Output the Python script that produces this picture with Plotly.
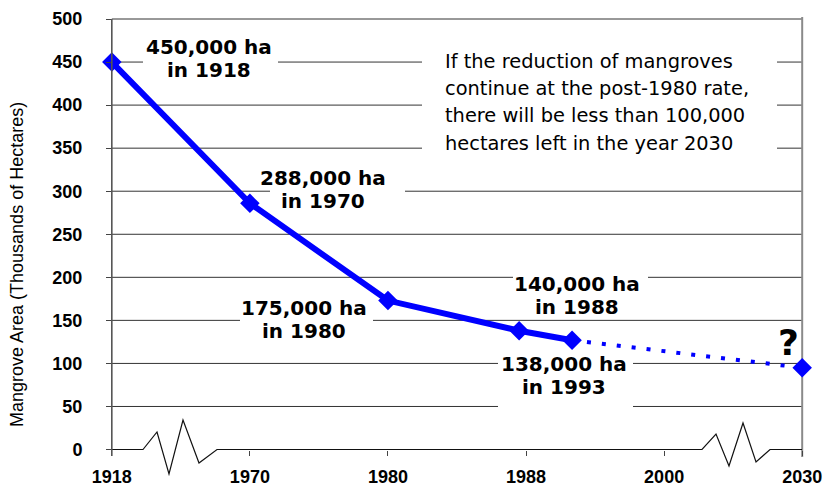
import numpy as np
import plotly.graph_objects as go

# ---------------- data ----------------
years = [1918, 1970, 1980, 1987.6, 1992, 2030]          # observation / projection years
area = [450, 286, 173, 138, 127, 95]                      # thousands of hectares
tick_years = [1918, 1970, 1980, 1988, 2000, 2030]         # broken axis tick years
tick_labels = ["1918", "1970", "1980", "1988", "2000", "2030"]
y_ticks = [0, 50, 100, 150, 200, 250, 300, 350, 400, 450, 500]
y_title = "Mangrove Area (Thousands of Hectares)"
label_lines = [
    ["450,000 ha", "in 1918"],
    ["288,000 ha", "in 1970"],
    ["175,000 ha", "in 1980"],
    ["140,000 ha", "in 1988"],
    ["138,000 ha", "in 1993"],
]
note_lines = [
    "If the reduction of mangroves",
    "continue at the post-1980 rate,",
    "there will be less than 100,000",
    "hectares left in the year 2030",
]
question = "?"

# ---------------- layout geometry ----------------
W, H = 828, 489
L, R, T, B = 98, 12, 10, 12
PW, PH = W - L - R, H - T - B
XR = [-0.1, 5.1]
YR = [-31.9, 510.45]
tick_pos = list(range(len(tick_years)))
xpos = np.interp(years, tick_years, tick_pos)


def xd(px):
    return XR[0] + (px - L) / PW * (XR[1] - XR[0])


def yd(py):
    return YR[1] - (py - T) / PH * (YR[1] - YR[0])


def xp(px):
    return (px - L) / PW


def yp(py):
    return (H - B - py) / PH


BLUE = "#0000FF"
GRID = "#333333"
fig = go.Figure()

# dotted projection
fig.add_trace(go.Scatter(
    x=xpos[4:], y=area[4:], mode="lines",
    line=dict(color=BLUE, width=4, dash="4px,11px"),
    hoverinfo="skip", showlegend=False, cliponaxis=False))
# observed series
fig.add_trace(go.Scatter(
    x=xpos[:5], y=area[:5], mode="lines+markers",
    line=dict(color=BLUE, width=6),
    marker=dict(symbol="diamond", size=15, color=BLUE),
    showlegend=False, cliponaxis=False))
# projected point
fig.add_trace(go.Scatter(
    x=xpos[5:], y=area[5:], mode="markers",
    marker=dict(symbol="diamond", size=15, color=BLUE),
    showlegend=False, cliponaxis=False))

shapes = []
# gridlines
for v in y_ticks[1:]:
    shapes.append(dict(type="line", xref="x", yref="y", x0=0, x1=5, y0=v, y1=v,
                       line=dict(color=GRID, width=1), layer="below"))
# white boxes behind labels (px rectangles)
boxes = [(143, 278, 33, 86), (422, 777, 42, 158), (270, 405, 166, 213),
         (240, 373, 296, 342), (513, 648, 270, 315), (498, 633, 354, 412)]
for x0, x1, y0, y1 in boxes:
    shapes.append(dict(type="rect", xref="x", yref="y", x0=xd(x0), x1=xd(x1),
                       y0=yd(y1), y1=yd(y0), fillcolor="white",
                       line=dict(width=0), layer="below"))
# broken baseline with zigzags
zz_px = [(112, 449.5), (143, 449.5), (157, 432), (169, 474), (183, 420), (199, 463),
         (217, 449.5), (702, 449.5), (716, 434), (729, 466), (743, 423), (756, 462),
         (770, 449.5), (802, 449.5)]
path = "M " + " L ".join(f"{xd(a):.4f},{yd(b):.3f}" for a, b in zz_px)
shapes.append(dict(type="path", xref="x", yref="y", path=path,
                   line=dict(color="#111111", width=1.2), layer="above"))
# left axis line and right border line
shapes.append(dict(type="line", xref="x", yref="y", x0=0, x1=0, y0=500, y1=yd(456),
                   line=dict(color="#555555", width=1.6), layer="above"))
shapes.append(dict(type="line", xref="x", yref="y", x0=5, x1=5, y0=yd(17), y1=yd(457),
                   line=dict(color="#8a8a8a", width=2), layer="below"))

annotations = []
BOLD = dict(family="DejaVu Sans", size=20, color="black", weight="bold")
label_px = [  # (center x, line1 y, line2 y)
    (209, 47, 70), (323, 177.5, 200.5), (304, 307.5, 330.5),
    (577, 284, 307), (564, 364, 387)]
for lines, (cx, y1, y2) in zip(label_lines, label_px):
    for txt, yy in zip(lines, (y1, y2)):
        annotations.append(dict(x=xd(cx), y=yd(yy), xref="x", yref="y", text=txt,
                                showarrow=False, font=BOLD, xanchor="center",
                                yanchor="middle"))
note_y = [61, 88, 115.5, 143]
for txt, yy in zip(note_lines, note_y):
    annotations.append(dict(x=xd(443), y=yd(yy), xref="x", yref="y", text=txt,
                            showarrow=False, xanchor="left", yanchor="middle",
                            font=dict(family="DejaVu Sans", size=19.4, color="black")))
annotations.append(dict(x=xd(788.5), y=yd(342), xref="x", yref="y", text=question,
                        showarrow=False, xanchor="center", yanchor="middle",
                        font=dict(family="DejaVu Sans", size=36, color="black",
                                  weight="bold")))
annotations.append(dict(x=xp(17), y=yp(265), xref="paper", yref="paper", text=y_title,
                        showarrow=False, textangle=-90, xanchor="center",
                        yanchor="middle",
                        font=dict(family="Liberation Sans, Arial", size=18,
                                  color="black")))

TICKFONT = dict(family="Liberation Sans, Arial", size=18, color="black", weight="bold")
fig.update_layout(
    width=W, height=H, margin=dict(l=L, r=R, t=T, b=B, pad=0, autoexpand=False),
    paper_bgcolor="white", plot_bgcolor="white",
    shapes=shapes, annotations=annotations, showlegend=False,
    xaxis=dict(range=XR, tickvals=tick_pos, ticktext=tick_labels, ticks="outside",
               ticklen=5, tickcolor="#444444", tickwidth=1, showline=False,
               showgrid=False, zeroline=False, anchor="free", position=yp(449.5),
               tickfont=TICKFONT, ticklabelstandoff=6, fixedrange=True,
               automargin=False),
    yaxis=dict(range=YR, tickvals=y_ticks, ticks="outside", ticklen=6,
               tickcolor="#444444", tickwidth=1, showline=False, showgrid=False,
               zeroline=False, anchor="free", position=xp(112), tickfont=TICKFONT,
               ticklabelstandoff=20, fixedrange=True, automargin=False),
)

fig.write_html(
    "out.html",
    config={"displayModeBar": False},
    post_script="document.body.style.margin='0px';"
                "document.body.style.overflow='hidden';",
)
